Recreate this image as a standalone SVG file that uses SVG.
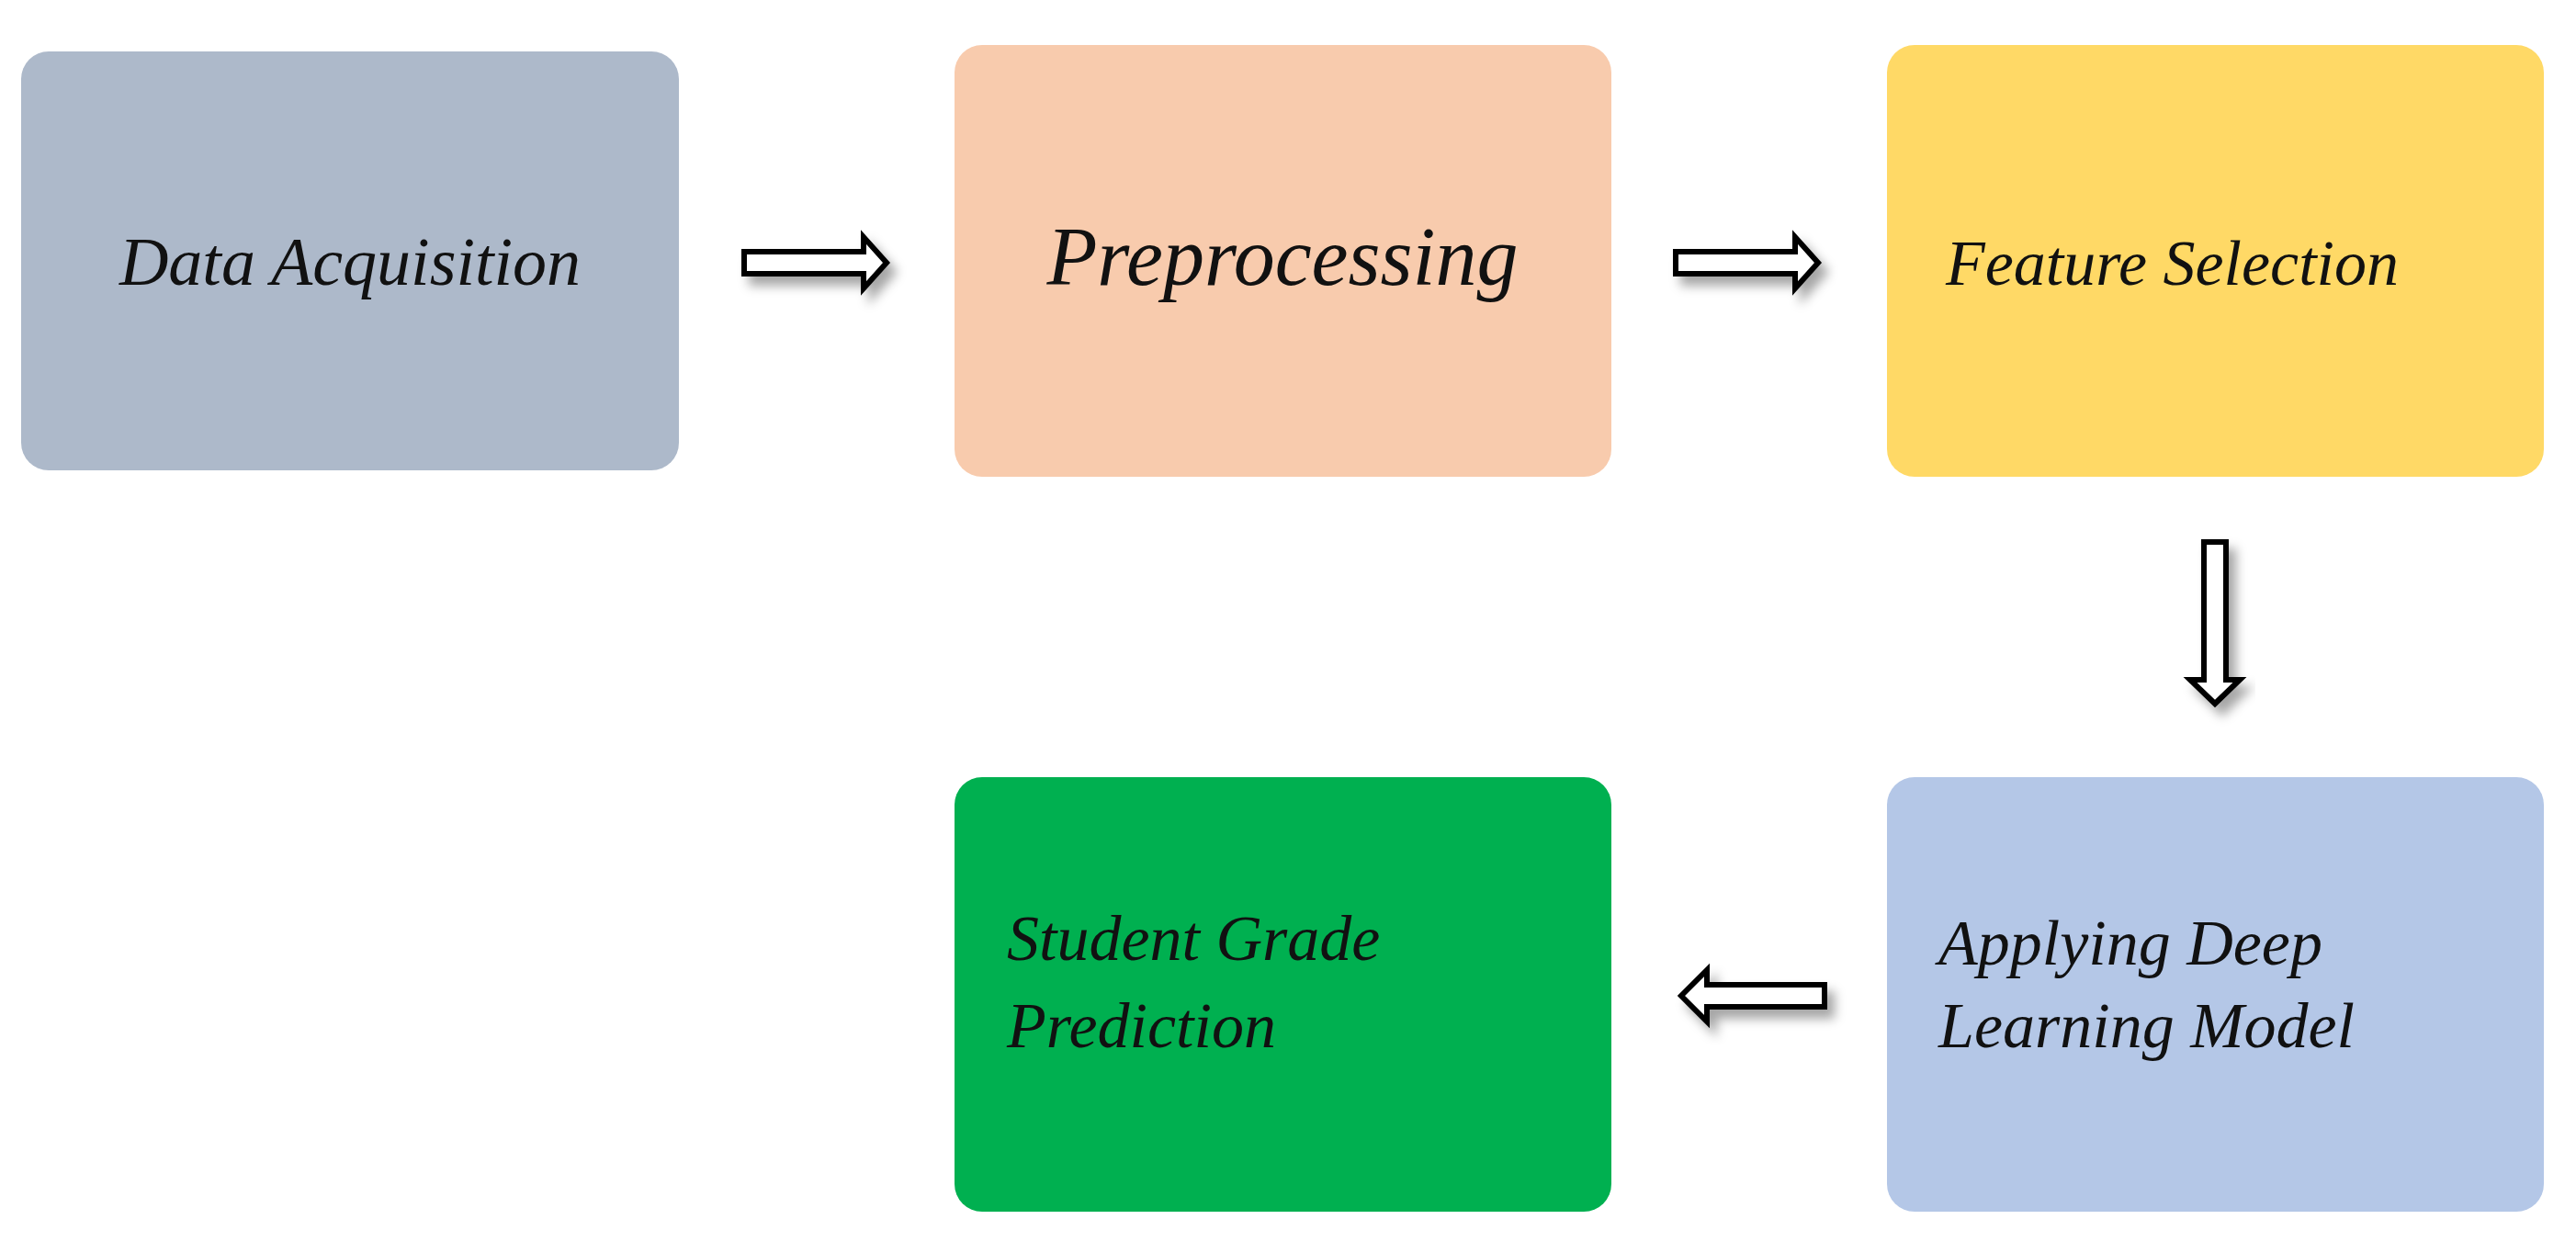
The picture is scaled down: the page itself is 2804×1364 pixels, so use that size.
<svg xmlns="http://www.w3.org/2000/svg" width="2804" height="1364" viewBox="0 0 2804 1364">
<style>
.t{font-family:"Liberation Serif",serif;font-style:italic;fill:#111}
.a{fill:#fff;stroke:#000;stroke-width:6;filter:url(#sh)}
</style>
<defs><filter id="sh" x="-30%" y="-50%" width="160%" height="200%"><feDropShadow dx="8" dy="10" stdDeviation="6" flood-color="#000" flood-opacity="0.35"/></filter></defs>
<rect width="2804" height="1364" fill="#fff"/>
<g id="data"><rect x="23" y="56" width="716" height="456" rx="30" fill="#adb9ca"/><text class="t" x="381" y="310" font-size="74" text-anchor="middle">Data Acquisition</text></g>
<g id="pre"><rect x="1039" y="49" width="715" height="470" rx="30" fill="#f8cbad"/><text class="t" x="1396" y="310" font-size="90" text-anchor="middle">Preprocessing</text></g>
<g id="feat"><rect x="2054" y="49" width="715" height="470" rx="30" fill="#ffd966"/><text class="t" x="2118" y="310" font-size="70">Feature Selection</text></g>
<g id="model"><rect x="2054" y="846" width="715" height="473" rx="30" fill="#b4c7e7"/><text class="t" x="2110" y="1050" font-size="70">Applying Deep</text><text class="t" x="2110" y="1140" font-size="70">Learning Model</text></g>
<g id="grade"><rect x="1039" y="846" width="715" height="473" rx="30" fill="#00b050"/><text class="t" x="1096" y="1045" font-size="70">Student Grade</text><text class="t" x="1096" y="1140" font-size="70">Prediction</text></g>
<g id="connectors">
<polygon class="a" points="810,274 940,274 940,258 965,286 940,314 940,298 810,298"/>
<polygon class="a" points="1824,274 1954,274 1954,258 1979,286 1954,314 1954,298 1824,298"/>
<polygon class="a" points="2399,590 2423,590 2423,740 2438,740 2411,766 2384,740 2399,740"/>
<polygon class="a" points="1986,1072 1858,1072 1858,1056 1830,1084 1858,1112 1858,1096 1986,1096"/>
</g>
</svg>
